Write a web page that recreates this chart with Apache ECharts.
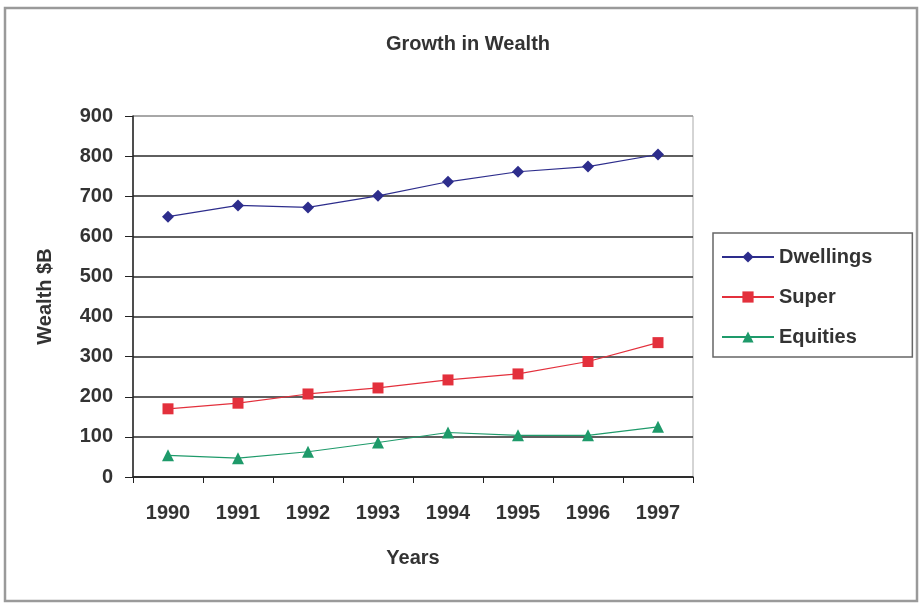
<!DOCTYPE html>
<html>
<head>
<meta charset="utf-8">
<script src="https://cdn.jsdelivr.net/npm/echarts@6/dist/echarts.min.js"></script>
<style>html,body{margin:0;padding:0;background:#fff}#c{width:920px;height:604px}</style>
</head>
<body>
<div id="c"></div>
<script>
const years = ['1990','1991','1992','1993','1994','1995','1996','1997'];
const dwellings = [649, 677, 672, 701, 736, 761, 774, 804];
const superFunds = [170, 184, 207, 222, 242, 257, 288, 335];
const equities = [54, 47, 63, 86, 111, 104, 104, 125];
const yTicks = [0, 100, 200, 300, 400, 500, 600, 700, 800, 900];

const font = 'Liberation Sans, Arial, sans-serif';
const chart = echarts.init(document.getElementById('c'));
chart.setOption({
  animation: false,
  backgroundColor: '#fff',
  title: {
    text: 'Growth in Wealth',
    left: 463, textAlign: 'center', top: 29,
    textStyle: { fontFamily: font, fontSize: 20, fontWeight: 'bold', color: '#333' }
  },
  graphic: [{
    type: 'rect', shape: { x: 5, y: 8, width: 912, height: 593 },
    style: { fill: 'none', stroke: '#9a9a9a', lineWidth: 2.5 }, z: -1
  }],
  grid: { left: 133, right: 227, top: 116, bottom: 127, show: true, borderColor: '#aaa', borderWidth: 1 },
  legend: {
    orient: 'vertical', left: 713, top: 233,
    padding: [14, 40, 10, 8], itemGap: 20, itemWidth: 52, itemHeight: 14,
    borderColor: '#666', borderWidth: 1.5,
    textStyle: { fontFamily: font, fontSize: 20, fontWeight: 'bold', color: '#333' },
    data: ['Dwellings', 'Super', 'Equities']
  },
  xAxis: {
    type: 'category', data: years, boundaryGap: true,
    name: 'Years', nameLocation: 'middle', nameGap: 71,
    nameTextStyle: { fontFamily: font, fontSize: 20, fontWeight: 'bold', color: '#333' },
    axisLine: { lineStyle: { color: '#222', width: 1.5 } },
    axisTick: { show: true, length: 6, alignWithLabel: false, lineStyle: { color: '#222' } },
    axisLabel: { margin: 26, fontFamily: font, fontSize: 20, fontWeight: 'bold', color: '#333' },
    splitLine: { show: false }
  },
  yAxis: {
    type: 'value', min: yTicks[0], max: yTicks[yTicks.length - 1], interval: 100,
    name: 'Wealth $B', nameLocation: 'middle', nameGap: 78, nameRotate: 90,
    nameTextStyle: { fontFamily: font, fontSize: 20, fontWeight: 'bold', color: '#333' },
    axisLine: { show: true, lineStyle: { color: '#222', width: 1.5 } },
    axisTick: { show: true, length: 8, lineStyle: { color: '#222' } },
    axisLabel: { margin: 20, fontFamily: font, fontSize: 20, fontWeight: 'bold', color: '#333' },
    splitLine: { show: true, lineStyle: { color: ['#2a2a2a','#2a2a2a','#2a2a2a','#2a2a2a','#2a2a2a','#2a2a2a','#2a2a2a','#2a2a2a','#2a2a2a','#999'], width: 1.6 } }
  },
  series: [
    { name: 'Dwellings', type: 'line', data: dwellings, symbol: 'diamond', symbolSize: 12,
      itemStyle: { color: '#2d2d8c' }, lineStyle: { color: '#2d2d8c', width: 1.2 } },
    { name: 'Super', type: 'line', data: superFunds, symbol: 'rect', symbolSize: 11,
      itemStyle: { color: '#e3303c' }, lineStyle: { color: '#e3303c', width: 1.2 } },
    { name: 'Equities', type: 'line', data: equities, symbol: 'triangle', symbolSize: 12,
      itemStyle: { color: '#1e9a6a' }, lineStyle: { color: '#1e9a6a', width: 1.2 } }
  ]
});
</script>
</body>
</html>
